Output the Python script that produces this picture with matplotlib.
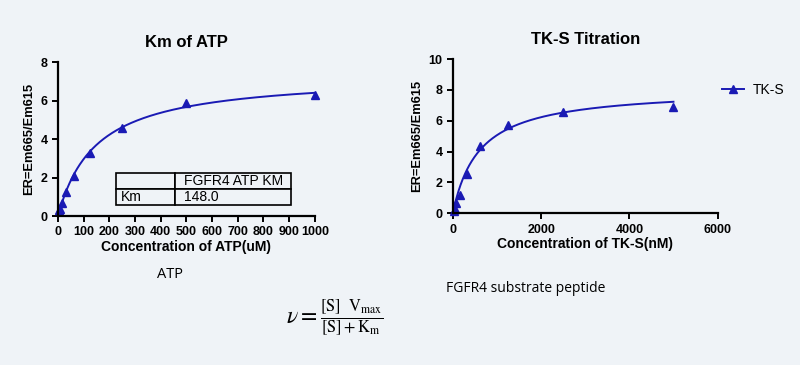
import numpy as np
import matplotlib.pyplot as plt
import matplotlib as mpl

# ATP titration (uM) and ratio
atp_conc = [3.9, 7.8, 15.6, 31.25, 62.5, 125, 250, 500, 1000]
atp_er = [0.3, 0.35, 0.7, 1.25, 2.1, 3.3, 4.6, 5.85, 6.3]
atp_km = 148.0
atp_vmax = 7.35

# TK-S titration (nM) and ratio
tks_conc = [19.5, 39, 78, 156, 312.5, 625, 1250, 2500, 5000]
tks_er = [0.15, 0.3, 0.65, 1.2, 2.55, 4.35, 5.75, 6.55, 6.9]
tks_km = 600.0
tks_vmax = 8.1

table_rows = [['', 'FGFR4 ATP KM'], ['Km', '148.0']]

bg = '#eff3f7'
blue = '#1a1ab4'

mpl.rcParams['font.family'] = ['Liberation Sans', 'DejaVu Sans']
mpl.rcParams['mathtext.fontset'] = 'stix'

def mm(s, vmax, km):
    return vmax * s / (s + km)

def style(ax):
    ax.set_facecolor(bg)
    for s in ['top', 'right']:
        ax.spines[s].set_visible(False)
    for s in ['left', 'bottom']:
        ax.spines[s].set_linewidth(1.6)
    ax.tick_params(width=1.4, length=4, labelsize=9)
    for lab in ax.get_xticklabels() + ax.get_yticklabels():
        lab.set_fontweight('bold')

fig = plt.figure(figsize=(8, 3.65), dpi=100)
fig.patch.set_facecolor(bg)

# left panel
ax1 = fig.add_axes([0.0725, 0.408, 0.321, 0.422])
xs = np.linspace(0, 1000, 400)
ax1.plot(xs, mm(xs, atp_vmax, atp_km), color=blue, lw=1.4)
ax1.plot(atp_conc, atp_er, '^', color=blue, ms=6, clip_on=False)
ax1.set_xlim(0, 1000)
ax1.set_ylim(0, 8)
ax1.set_xticks(np.arange(0, 1001, 100))
ax1.set_yticks(np.arange(0, 9, 2))
style(ax1)
ax1.set_title('Km of ATP', fontsize=12, fontweight='bold', pad=11)
ax1.set_xlabel('Concentration of ATP(uM)', fontsize=10, fontweight='bold', labelpad=1)
ax1.set_ylabel('ER=Em665/Em615', fontsize=9.3, fontweight='bold', labelpad=4)

tbl = ax1.table(cellText=table_rows, colWidths=[0.23, 0.45],
                bbox=[0.226, 0.07, 0.68, 0.21], cellLoc='left')
tbl.auto_set_font_size(False)
tbl.set_fontsize(10)
for (r, c), cell in tbl.get_celld().items():
    cell.set_facecolor(bg)
    cell.set_linewidth(1.2)
    cell.PAD = 0.08

# right panel
ax2 = fig.add_axes([0.566, 0.416, 0.331, 0.422])
xs2 = np.linspace(0, 5000, 400)
ax2.plot(xs2, mm(xs2, tks_vmax, tks_km), color=blue, lw=1.4)
ax2.plot(tks_conc, tks_er, '^', color=blue, ms=6, clip_on=False)
ax2.plot([], [], '-^', color=blue, ms=6, lw=1.4, label='TK-S')
ax2.set_xlim(0, 6000)
ax2.set_ylim(0, 10)
ax2.set_xticks(np.arange(0, 6001, 2000))
ax2.set_yticks(np.arange(0, 11, 2))
style(ax2)
ax2.set_title('TK-S Titration', fontsize=12, fontweight='bold', pad=11)
ax2.set_xlabel('Concentration of TK-S(nM)', fontsize=10, fontweight='bold', labelpad=1)
ax2.set_ylabel('ER=Em665/Em615', fontsize=9.3, fontweight='bold', labelpad=4)
ax2.legend(loc='center left', bbox_to_anchor=(0.97, 0.8), frameon=False,
           fontsize=10, handlelength=1.6, handletextpad=0.6)

# captions
fig.text(157 / 800, 1 - 274 / 365, 'ATP', fontsize=10.5, family='Open Sans',
         ha='left', va='center')
fig.text(446 / 800, 1 - 288 / 365, 'FGFR4 substrate peptide', fontsize=10,
         family='Open Sans', ha='left', va='center')
fig.text(335 / 800, 1 - 318 / 365,
         r'$\nu = \frac{[\mathrm{S}]\ \ \mathrm{V_{max}}}{[\mathrm{S}]+\mathrm{K_m}}$',
         fontsize=17, ha='center', va='center')

plt.savefig('out.png', dpi=100, facecolor=bg)
